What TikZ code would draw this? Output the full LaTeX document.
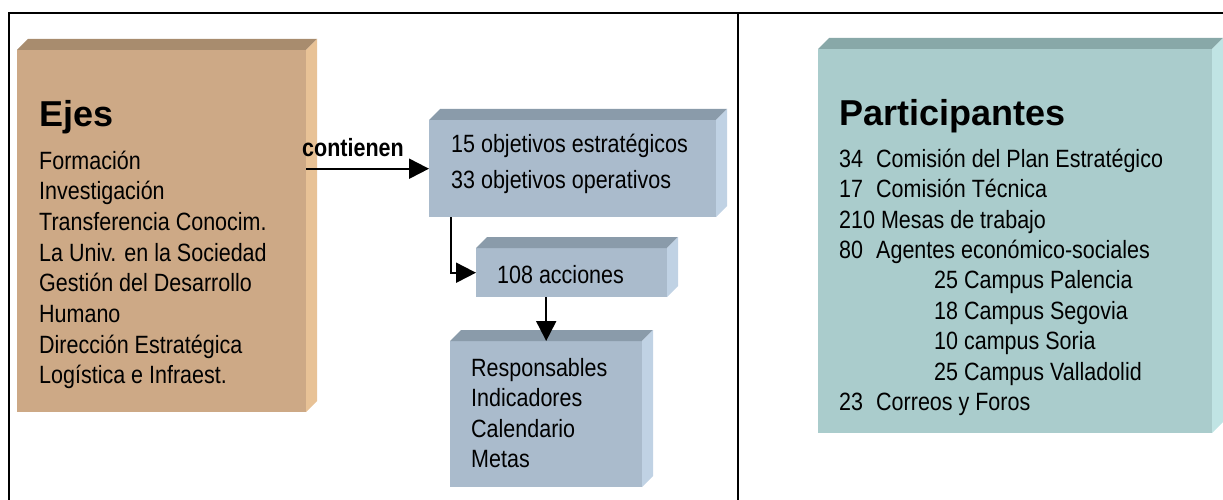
\documentclass[tikz,border=0pt]{standalone}
\usepackage{fontspec}
\setmainfont{Liberation Sans}
\newfontfamily\nar[FakeStretch=0.86]{Liberation Sans}
\usetikzlibrary{arrows.meta}
\definecolor{tanF}{HTML}{CDA986}
\definecolor{tanT}{HTML}{A88C6E}
\definecolor{tanS}{HTML}{E8C296}
\definecolor{bluF}{HTML}{AABBCC}
\definecolor{bluT}{HTML}{8A9BAA}
\definecolor{bluS}{HTML}{C0D2E4}
\definecolor{tealF}{HTML}{AACCCC}
\definecolor{tealT}{HTML}{88A8A8}
\definecolor{tealS}{HTML}{C0E4E4}
\tikzset{
  frameline/.style={line width=2.5pt},
  lst/.style={anchor=base west, inner sep=0pt, font=\nar\fontsize{25}{30}\selectfont},
  head/.style={anchor=base west, inner sep=0pt, font=\bfseries\fontsize{36}{40}\selectfont},
  arr/.style={line width=2pt, -{Triangle[length=20pt,width=20pt]}},
  face/.style={anchor=north west, inner sep=0pt, draw=none}
}
% #1 name, #2 x1, #3 y1, #4 x2, #5 y2, #6 front, #7 top, #8 side, #9 depth
\newcommand\bevbox[9]{%
  \node[face, fill=#6, minimum width=#4pt-#2pt, minimum height=#5pt-#3pt] (#1) at (#2,#3) {};
  \fill[#7] (#2,#3) -- (#2+#9,#3-#9) -- (#4+#9,#3-#9) -- (#4,#3) -- cycle;
  \fill[#8] (#4,#3) -- (#4+#9,#3-#9) -- (#4+#9,#5-#9) -- (#4,#5) -- cycle;
}
\begin{document}
\begin{tikzpicture}[x=1pt,y=-1pt]
\useasboundingbox (0,0) rectangle (1223,500);
% frame
\draw[frameline] (9,500) -- (9,13) -- (1223,13);
\draw[frameline] (738,13) -- (738,500);
% boxes
\bevbox{ejes}{17}{50}{306}{412}{tanF}{tanT}{tanS}{11}
\bevbox{obj}{429}{120}{716}{217}{bluF}{bluT}{bluS}{11}
\bevbox{acc}{476}{248}{667}{297}{bluF}{bluT}{bluS}{11}
\bevbox{resp}{450}{341}{642}{487}{bluF}{bluT}{bluS}{11}
\bevbox{part}{818}{49}{1212}{433}{tealF}{tealT}{tealS}{11}
% Ejes text
\node[head] (ejesT) at (39,127) {Ejes};
\foreach \t [count=\i] in {Formación,Investigación,Transferencia Conocim.,La Univ. en la Sociedad,Gestión del Desarrollo,Humano,Dirección Estratégica,Logística e Infraest.}
  \node[lst] (ej-\i) at (39,{169+30.7*(\i-1)}) {\t};
% objectives
\node[lst] (o1) at (451,153) {15 objetivos estratégicos};
\node[lst] (o2) at (451,188) {33 objetivos operativos};
\node[lst] (a1) at (497,283) {108 acciones};
\foreach \t [count=\i] in {Responsables,Indicadores,Calendario,Metas}
  \node[lst] (r-\i) at (471,{376+30.5*(\i-1)}) {\t};
% participants
\node[head] (partT) at (839,126) {Participantes};
\foreach \x/\y/\t [count=\i] in {839/167/34, 876/167/Comisión del Plan Estratégico,
  839/197/17, 876/197/Comisión Técnica,
  839/228/210 Mesas de trabajo,
  839/258/80, 876/258/Agentes económico-sociales,
  934/288/25 Campus Palencia,
  934/319/18 Campus Segovia,
  934/349/10 campus Soria,
  934/380/25 Campus Valladolid,
  839/410/23, 876/410/Correos y Foros}
  \node[lst] (p-\i) at (\x,\y) {\t};
% connectors
\draw[arr] (ejes.east |- obj.west) -- (obj.west);
\node[anchor=base west, inner sep=0pt, font=\nar\bfseries\fontsize{25}{30}\selectfont] (cont) at (302,157) {contienen};
\draw[arr] ([xshift=22pt]obj.south west) |- (acc.west);
\draw[arr] (resp.north |- acc.south) -- (resp.north);
\end{tikzpicture}
\end{document}
